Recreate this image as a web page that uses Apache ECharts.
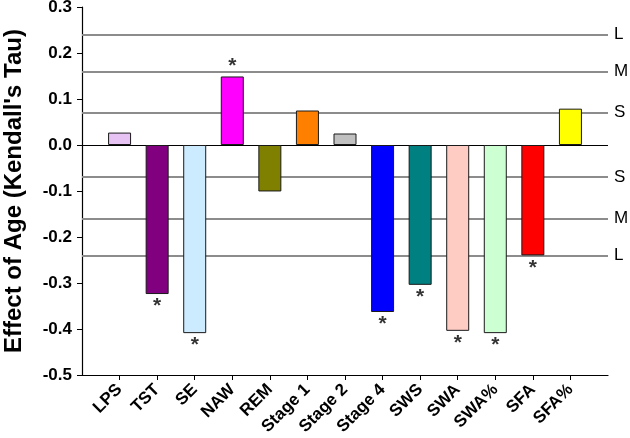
<!DOCTYPE html>
<html>
<head>
<meta charset="utf-8">
<script src="https://cdn.jsdelivr.net/npm/echarts@6/dist/echarts.min.js"></script>
<style>html,body{margin:0;padding:0;background:#fff}#c{width:630px;height:438px}</style>
</head>
<body>
<div id="c"></div>
<script>
const categories = ['LPS','TST','SE','NAW','REM','Stage 1','Stage 2','Stage 4','SWS','SWA','SWA%','SFA','SFA%'];
const values = [0.027,-0.324,-0.409,0.149,-0.101,0.075,0.025,-0.363,-0.304,-0.404,-0.409,-0.240,0.079];
const colors = ['#E6C3F2','#800080','#CCEBFF','#FF00FF','#808000','#FF8000','#C0C0C0','#0000FF','#008080','#FFCCC4','#CCFFD2','#FF0000','#FFFF00'];
const significant = [false,true,true,true,false,false,false,true,true,true,true,true,false];
const thresholdLabels = ['S','M','L'];
const thresholdValues = [0.065,0.156,0.242];
const yMin = -0.5, yMax = 0.3, yStep = 0.1;

const FONT = "'Liberation Sans', Arial, sans-serif";
const nCat = categories.length;
const positions = categories.map((c, i) => i + 1);

const barData = values.map((v, i) => ({
  value: [positions[i], v],
  itemStyle: { color: colors[i], borderColor: '#1a1a1a', borderWidth: 1 }
}));

const starData = [];
values.forEach((v, i) => {
  if (significant[i]) {
    starData.push({
      value: [positions[i], v],
      label: { position: v > 0 ? 'top' : 'bottom', distance: v > 0 ? 0 : 2 }
    });
  }
});

const refLines = [];
thresholdValues.forEach((t, k) => {
  [t, -t].forEach(val => {
    refLines.push({
      yAxis: val,
      lineStyle: { color: '#8c8c8c', width: 2, type: 'solid' },
      label: { show: true, position: 'end', formatter: thresholdLabels[k], color: '#000', fontSize: 17, fontFamily: FONT, distance: 6 }
    });
  });
});
refLines.push({ yAxis: 0, lineStyle: { color: '#000', width: 1.2, type: 'solid' }, label: { show: false } });
refLines.push({ yAxis: yMin, lineStyle: { color: '#000', width: 1.2, type: 'solid' }, label: { show: false } });

const chart = echarts.init(document.getElementById('c'), null, { renderer: 'canvas' });
chart.setOption({
  animation: false,
  backgroundColor: '#fff',
  grid: { top: 7, bottom: 63, left: 82, right: 22, outerBoundsMode: 'none', containLabel: false },
  xAxis: {
    type: 'value', min: 0, max: nCat + 1,
    axisLine: { show: true, onZero: false, lineStyle: { color: '#000', width: 1.2 } },
    splitLine: { show: false },
    axisTick: { show: true, customValues: positions, length: 5, lineStyle: { color: '#000' } },
    axisLabel: {
      customValues: positions,
      formatter: v => categories[Math.round(v) - 1] || '',
      rotate: 45, fontSize: 17, fontWeight: 'bold', color: '#000', fontFamily: FONT, margin: 12
    }
  },
  yAxis: {
    type: 'value', min: yMin, max: yMax, interval: yStep,
    name: "Effect of Age (Kendall's Tau)", nameLocation: 'middle', nameGap: 56,
    nameTextStyle: { fontSize: 24, fontWeight: 'bold', color: '#000', fontFamily: FONT },
    axisLine: { show: true, onZero: false, lineStyle: { color: '#000', width: 1.2 } },
    axisTick: { show: true, inside: false, length: 5, lineStyle: { color: '#000' } },
    splitLine: { show: false },
    axisLabel: { formatter: v => v.toFixed(1), fontSize: 17, fontWeight: 'bold', color: '#000', fontFamily: FONT, margin: 10 }
  },
  series: [
    {
      type: 'bar', data: barData, barWidth: 23, z: 3,
      markLine: { silent: true, z: 1, symbol: ['none', 'none'], data: refLines, animation: false }
    },
    {
      type: 'scatter', data: starData, symbolSize: 0, z: 4,
      label: { show: true, formatter: '*', fontSize: 21, fontWeight: 'bold', color: '#000', fontFamily: FONT }
    }
  ]
});
</script>
</body>
</html>
